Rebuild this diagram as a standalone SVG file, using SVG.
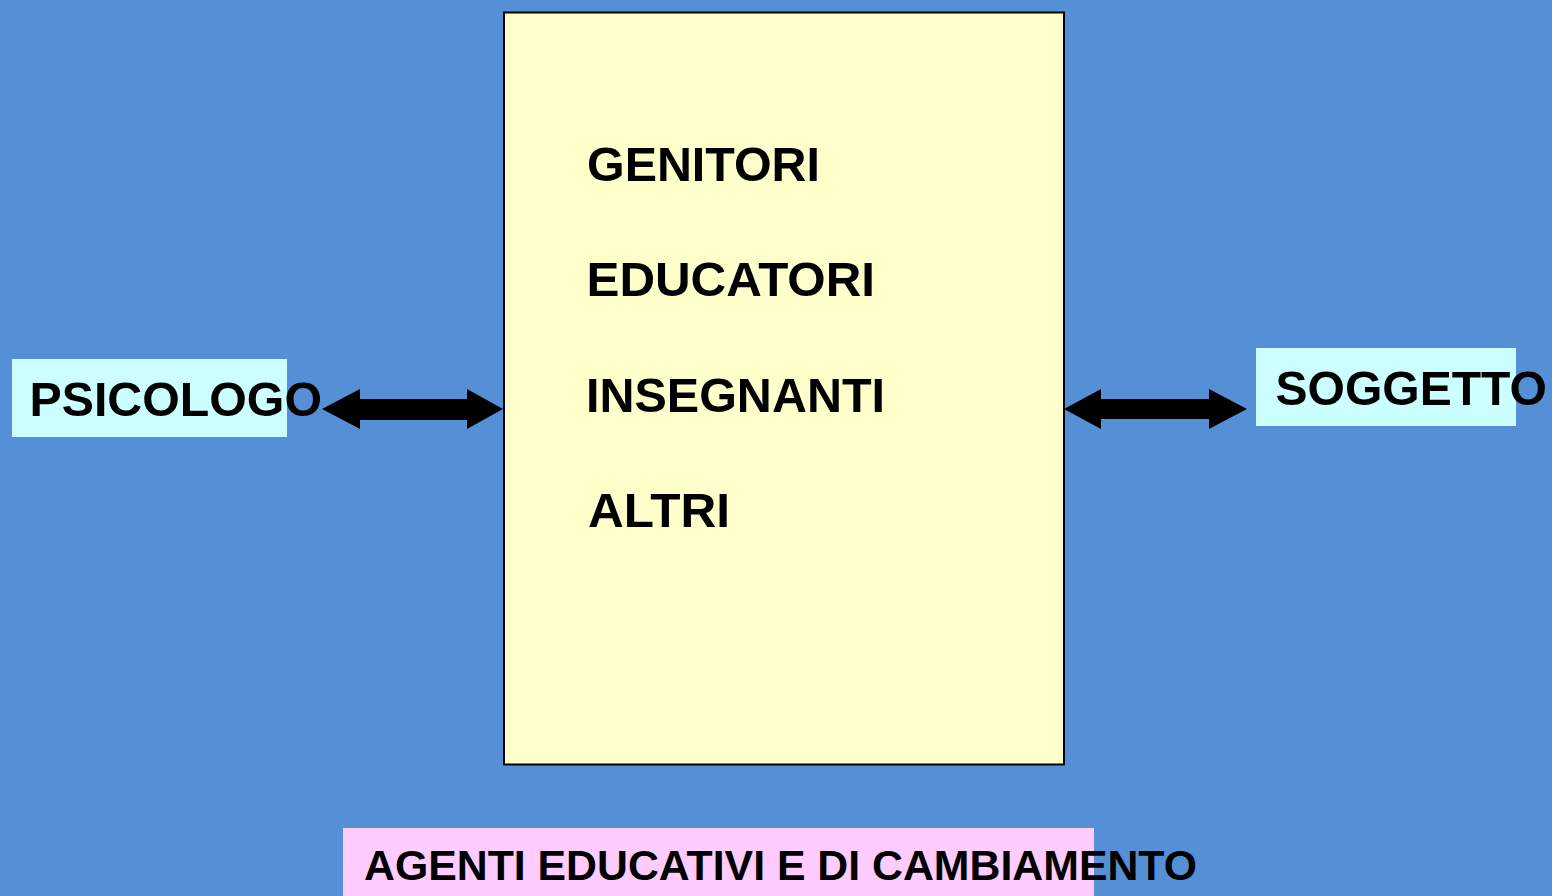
<svg xmlns="http://www.w3.org/2000/svg" width="1552" height="896" viewBox="0 0 1552 896">
<style>
.t{font-family:"Liberation Sans",Arial,sans-serif;font-weight:bold;fill:#000}
.big{font-size:48px}
.arrow{fill:#000}
</style>
<rect x="0" y="0" width="1552" height="896" fill="#5590D6"/>
<g id="agenti-box">
<rect x="504" y="12.5" width="560" height="752" fill="#FFFFCC" stroke="#000" stroke-width="2"/>
<text class="t big" x="587" y="181" textLength="233" lengthAdjust="spacingAndGlyphs">GENITORI</text>
<text class="t big" x="586.5" y="296" textLength="288.5" lengthAdjust="spacingAndGlyphs">EDUCATORI</text>
<text class="t big" x="586" y="412" textLength="299" lengthAdjust="spacingAndGlyphs">INSEGNANTI</text>
<text class="t big" x="588" y="527" textLength="142" lengthAdjust="spacingAndGlyphs">ALTRI</text>
</g>
<g id="psicologo">
<rect x="12" y="359" width="275" height="78" fill="#CCFFFF"/>
<text class="t big" x="29.5" y="416" textLength="292.5" lengthAdjust="spacingAndGlyphs">PSICOLOGO</text>
</g>
<g id="soggetto">
<rect x="1256" y="348" width="260" height="78" fill="#CCFFFF"/>
<text class="t big" x="1275.5" y="405" textLength="271.5" lengthAdjust="spacingAndGlyphs">SOGGETTO</text>
</g>
<g id="caption">
<rect x="343" y="828" width="751" height="68" fill="#FFCCFF"/>
<text class="t" x="364" y="880" font-size="42.5" textLength="833" lengthAdjust="spacingAndGlyphs">AGENTI EDUCATIVI E DI CAMBIAMENTO</text>
</g>
<g id="connectors">
<polygon class="arrow" points="322,409 360,389 360,399 467,399 467,389 503,409 467,429 467,420 360,420 360,429"/>
<polygon class="arrow" points="1064,409 1101,389 1101,399 1209,399 1209,389 1247,409 1209,429 1209,419 1101,419 1101,429"/>
</g>
</svg>
